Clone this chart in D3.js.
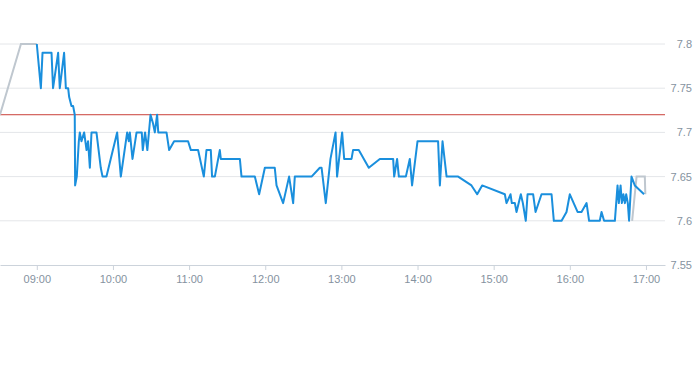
<!DOCTYPE html>
<html>
<head>
<meta charset="utf-8">
<script src="https://cdn.jsdelivr.net/npm/d3@7"></script>
<style>
    body { margin: 0; background: #fff; }
    text { font-family: "Liberation Sans", Arial, sans-serif; }
</style>
</head>
<body>
<div class="chart"></div>
<script>
// pre-open auction (grey)
const preTimes = ['08:31:00', '08:47:30', '09:00:00'];
const prePrices = [7.72, 7.80, 7.80];

// regular session (blue)
const times = [
    '09:00:00', '09:03:12', '09:04:30', '09:11:36', '09:12:48', '09:16:48', '09:18:06', '09:21:30',
    '09:22:54', '09:24:42', '09:25:30', '09:27:18', '09:28:36', '09:29:54', '09:30:12', '09:31:30',
    '09:33:06', '09:33:54', '09:35:12', '09:37:18', '09:39:12', '09:40:24', '09:41:48', '09:43:06',
    '09:47:00', '09:50:24', '09:51:48', '09:54:54', '10:03:18', '10:06:12', '10:11:12', '10:12:30',
    '10:13:18', '10:15:24', '10:18:36', '10:22:42', '10:23:30', '10:25:18', '10:27:06', '10:29:36',
    '10:31:36', '10:33:00', '10:34:48', '10:35:42', '10:42:12', '10:44:18', '10:48:12', '10:59:12',
    '11:01:24', '11:07:06', '11:11:36', '11:13:42', '11:17:06', '11:18:06', '11:20:18', '11:24:12',
    '11:25:00', '11:40:00', '11:41:18', '11:51:48', '11:55:12', '11:59:42', '12:07:30', '12:08:54',
    '12:14:06', '12:18:48', '12:22:00', '12:23:18', '12:36:30', '12:43:00', '12:44:24', '12:47:42',
    '12:51:24', '12:55:24', '12:56:36', '13:00:36', '13:02:12', '13:08:00', '13:09:12', '13:13:42',
    '13:21:36', '13:30:18', '13:40:48', '13:41:36', '13:43:54', '13:45:18', '13:50:48', '13:53:54',
    '13:55:42', '14:00:00', '14:16:12', '14:17:36', '14:19:42', '14:22:54', '14:32:00', '14:42:30',
    '14:47:00', '14:50:54', '15:08:48', '15:10:06', '15:13:18', '15:14:18', '15:16:42', '15:18:00',
    '15:21:24', '15:23:00', '15:25:18', '15:26:42', '15:31:06', '15:33:00', '15:37:42', '15:45:36',
    '15:47:24', '15:53:30', '15:57:24', '16:00:00', '16:06:06', '16:09:12', '16:13:12', '16:15:12',
    '16:23:36', '16:25:00', '16:27:00', '16:35:30', '16:37:36', '16:38:36', '16:40:00', '16:41:00',
    '16:42:12', '16:43:24', '16:44:24', '16:45:42', '16:46:42', '16:48:36', '16:51:12', '16:58:30'
];
const prices = [
    7.80, 7.75, 7.79, 7.79, 7.75, 7.79, 7.75, 7.79,
    7.75, 7.75, 7.74, 7.73, 7.73, 7.72, 7.64, 7.65,
    7.69, 7.70, 7.69, 7.70, 7.68, 7.69, 7.66, 7.70,
    7.70, 7.66, 7.65, 7.65, 7.70, 7.65, 7.70, 7.69,
    7.70, 7.67, 7.70, 7.70, 7.68, 7.70, 7.68, 7.72,
    7.71, 7.70, 7.72, 7.70, 7.70, 7.68, 7.69, 7.69,
    7.68, 7.68, 7.65, 7.68, 7.68, 7.65, 7.65, 7.68,
    7.67, 7.67, 7.65, 7.65, 7.63, 7.66, 7.66, 7.64,
    7.62, 7.65, 7.62, 7.65, 7.65, 7.66, 7.66, 7.62,
    7.67, 7.70, 7.65, 7.70, 7.67, 7.67, 7.68, 7.68,
    7.66, 7.67, 7.67, 7.65, 7.67, 7.65, 7.65, 7.67,
    7.64, 7.69, 7.69, 7.64, 7.69, 7.65, 7.65, 7.64,
    7.63, 7.64, 7.63, 7.62, 7.63, 7.62, 7.62, 7.61,
    7.63, 7.62, 7.60, 7.63, 7.63, 7.61, 7.63, 7.63,
    7.60, 7.60, 7.61, 7.63, 7.61, 7.61, 7.62, 7.60,
    7.60, 7.61, 7.60, 7.60, 7.64, 7.62, 7.64, 7.62,
    7.63, 7.62, 7.63, 7.62, 7.60, 7.65, 7.64, 7.63
];

// after-hours (grey)
const postTimes = ['16:49:06', '16:52:36', '16:59:06', '16:59:30'];
const postPrices = [7.60, 7.65, 7.65, 7.63];

const prevClose = 7.72;
const yTicks = [7.55, 7.6, 7.65, 7.7, 7.75, 7.8];
const xTickLabels = ['09:00', '10:00', '11:00', '12:00', '13:00', '14:00', '15:00', '16:00', '17:00'];

const width = 693, height = 365;
const plotRight = 665, plotTop = 44, plotBottom = 265;

const parse = d3.timeParse('%H:%M:%S');
const parseHM = d3.timeParse('%H:%M');
const toPoints = (ts, vs) => ts.map((t, i) => ({ t: parse(t), v: vs[i] }));

const x = d3.scaleTime()
    .domain([parse('08:31:00'), parse('17:15:00')])
    .range([0, plotRight]);

const y = d3.scaleLinear()
    .domain([7.55, 7.8])
    .range([plotBottom, plotTop]);

const svg = d3.select('.chart')
    .append('svg')
        .attr('width', width)
        .attr('height', height);

// horizontal grid
svg.append('g')
    .selectAll('line')
    .data(yTicks.slice(1))
    .enter()
        .append('line')
        .attr('x1', 0)
        .attr('x2', plotRight)
        .attr('y1', d => y(d))
        .attr('y2', d => y(d))
        .style('stroke', '#e4e6e9')
        .style('stroke-width', 1);

// y labels on the right
svg.append('g')
    .selectAll('text')
    .data(yTicks)
    .enter()
        .append('text')
        .attr('x', 692)
        .attr('y', d => y(d) + 4)
        .attr('text-anchor', 'end')
        .style('font-size', '11px')
        .style('fill', '#8592a0')
        .text(d => d);

// x axis
const xAxis = d3.axisBottom(x)
    .tickValues(xTickLabels.map(parseHM))
    .tickFormat(d3.timeFormat('%H:%M'))
    .tickSizeInner(5)
    .tickSizeOuter(0)
    .tickPadding(5);

const gx = svg.append('g')
    .attr('transform', `translate(0,${plotBottom})`)
    .call(xAxis);

gx.select('.domain').style('stroke', '#ccd3db');
gx.selectAll('.tick line').style('stroke', '#ccd3db');
gx.selectAll('.tick text')
    .style('font-size', '11px')
    .style('fill', '#8592a0')
    .style('font-family', '"Liberation Sans", Arial, sans-serif');

// previous close
svg.append('line')
    .attr('x1', 0)
    .attr('x2', plotRight)
    .attr('y1', y(prevClose))
    .attr('y2', y(prevClose))
    .style('stroke', '#c9413a')
    .style('stroke-width', 1);

const line = d3.line()
    .x(d => x(d.t))
    .y(d => y(d.v));

svg.append('path')
    .datum(toPoints(preTimes, prePrices))
    .attr('d', line)
    .style('fill', 'none')
    .style('stroke', '#bfc7cf')
    .style('stroke-width', 2);

svg.append('path')
    .datum(toPoints(postTimes, postPrices))
    .attr('d', line)
    .style('fill', 'none')
    .style('stroke', '#bfc7cf')
    .style('stroke-width', 2);

svg.append('path')
    .datum(toPoints(times, prices))
    .attr('d', line)
    .style('fill', 'none')
    .style('stroke', '#1a8fdd')
    .style('stroke-width', 2)
    .style('stroke-linejoin', 'round');
</script>
</body>
</html>
